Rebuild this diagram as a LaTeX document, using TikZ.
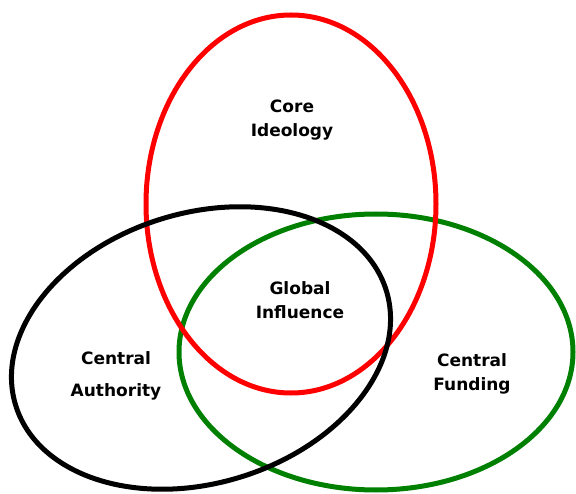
\documentclass[tikz,border=0pt]{standalone}
\usepackage{fontspec}
\setmainfont{DejaVu Sans}
\definecolor{myred}{RGB}{255,0,0}
\definecolor{mygreen}{RGB}{0,128,0}
\tikzstyle{ring} = [line width=5pt]
\tikzstyle{venntext} = [draw=none, inner sep=0, align=center,
    font=\fontsize{17}{24}\selectfont\bfseries]

\begin{document}
\begin{tikzpicture}[x=1pt, y=-1pt]

\useasboundingbox (0,0) rectangle (576,494);

%%% circles
\draw[ring, draw=mygreen] (376,352) ellipse [x radius=197, y radius=138];
\draw[ring, draw=myred] (291,204) ellipse [x radius=145, y radius=189];
\draw[ring, draw=black, rotate around={17.3:(201,348)}] (201,348) ellipse [x radius=194, y radius=135];

%%% texts
\node[venntext] (core) at (292,120) {Core \\ Ideology};
\node[venntext] (global) at (300,300) {Global \\ Influence};
\node[venntext] (auth) at (116,376) {Central \\[8pt] Authority};
\node[venntext] (fund) at (472,374) {Central \\ Funding};

\end{tikzpicture}
\end{document}
